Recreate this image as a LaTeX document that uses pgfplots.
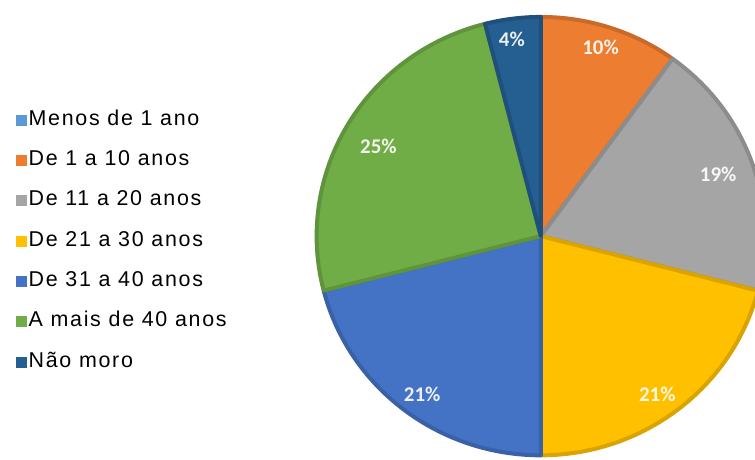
\documentclass[border=0pt]{standalone}
\usepackage{pgfplots}
\pgfplotsset{compat=1.18}
\usepackage{pgfplotstable}
\usepackage{fontspec}
\setmainfont{Liberation Sans}
\newfontfamily\legendfont{Liberation Sans}[LetterSpace=8]
\newfontfamily\pctfont{Carlito}
\definecolor{cA}{HTML}{5B9BD5}
\definecolor{cB}{HTML}{ED7D31}
\definecolor{cC}{HTML}{A5A5A5}
\definecolor{cD}{HTML}{FFC000}
\definecolor{cE}{HTML}{4472C4}
\definecolor{cF}{HTML}{70AD47}
\definecolor{cG}{HTML}{255E91}

\pgfplotstableread{
idx value lx ly
0 0  540 240
1 10 600 48
2 19 718 175
3 21 657 396
4 21 421 396
5 25 377 147
6 4  511 40
}\piedata

\pgfplotsset{squarelegend/.style={legend image code/.code={\fill[#1, draw=none] (0bp,-5.5bp) rectangle (11.5bp,5.5bp);}}}

\newcommand\pieslice[2]{%
  \filldraw[fill=#2, draw=#2!85!black, line width=4bp, line join=round]
    (axis cs:540,224) -- ++(\csname pieS#1\endcsname:225bp and 220bp)
    arc[start angle=\csname pieS#1\endcsname, end angle=\csname pieE#1\endcsname,
        x radius=225bp, y radius=220bp] -- cycle;%
  \node[text=white, opacity=0.9, font=\pctfont\bfseries\fontsize{21bp}{22bp}\selectfont]
    at (axis cs:\csname pieLX#1\endcsname,\csname pieLY#1\endcsname) {\csname pieV#1\endcsname\%};%
}

\begin{document}
\gdef\cum{0}
\foreach \i in {0,...,6}{%
  \pgfplotstablegetelem{\i}{value}\of\piedata
  \pgfmathsetmacro\v{\pgfplotsretval}%
  \pgfmathtruncatemacro\vi{\pgfplotsretval}%
  \pgfmathsetmacro\s{90-3.6*\cum}%
  \pgfmathsetmacro\e{90-3.6*(\cum+\v)}%
  \expandafter\xdef\csname pieS\i\endcsname{\s}%
  \expandafter\xdef\csname pieE\i\endcsname{\e}%
  \expandafter\xdef\csname pieV\i\endcsname{\vi}%
  \pgfplotstablegetelem{\i}{lx}\of\piedata
  \expandafter\xdef\csname pieLX\i\endcsname{\pgfplotsretval}%
  \pgfplotstablegetelem{\i}{ly}\of\piedata
  \pgfmathsetmacro\ly{461-\pgfplotsretval}%
  \expandafter\xdef\csname pieLY\i\endcsname{\ly}%
  \pgfmathsetmacro\c{\cum+\v}%
  \xdef\cum{\c}%
}%
\begin{tikzpicture}
\begin{axis}[
  name=ax,
  scale only axis, width=755bp, height=461bp,
  xmin=0, xmax=755, ymin=0, ymax=461,
  hide axis, clip=true,
  legend style={at={(axis cs:13,349.5)}, anchor=north west, draw=none, fill=none,
    inner sep=0pt, outer sep=0pt,
    font=\legendfont\fontsize{21.5bp}{23bp}\selectfont,
    row sep=22.5bp, column sep=1.5bp,
    nodes={inner sep=0pt, outer sep=0pt, text height=14bp, text depth=4bp}},
  legend cell align=left,
  squarelegend,
]
\fill[white] (axis cs:0,0) rectangle (axis cs:755,461);
\pieslice{1}{cB}
\pieslice{2}{cC}
\pieslice{3}{cD}
\pieslice{4}{cE}
\pieslice{5}{cF}
\pieslice{6}{cG}
\addlegendimage{fill=cA}\addlegendentry{Menos de 1 ano}
\addlegendimage{fill=cB}\addlegendentry{De 1 a 10 anos}
\addlegendimage{fill=cC}\addlegendentry{De 11 a 20 anos}
\addlegendimage{fill=cD}\addlegendentry{De 21 a 30 anos}
\addlegendimage{fill=cE}\addlegendentry{De 31 a 40 anos}
\addlegendimage{fill=cF}\addlegendentry{A mais de 40 anos}
\addlegendimage{fill=cG}\addlegendentry{Não moro}
\end{axis}
\pgfresetboundingbox
\useasboundingbox (ax.south west) rectangle (ax.north east);
\end{tikzpicture}
\end{document}
